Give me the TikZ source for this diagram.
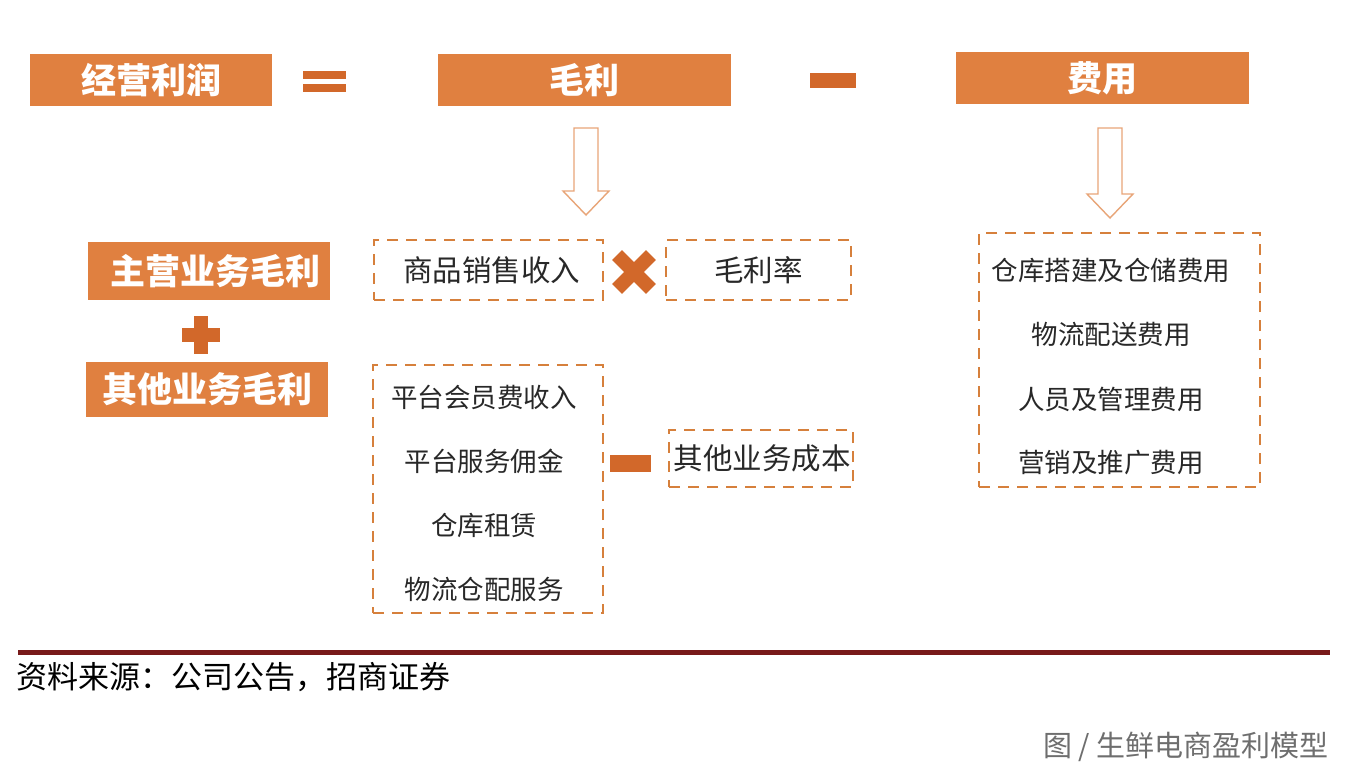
\documentclass[tikz,border=0pt]{standalone}
\usepackage{fontspec}
\newfontfamily\cjk{Noto Sans CJK SC}
\definecolor{boxor}{RGB}{224,128,64}
\definecolor{signor}{RGB}{210,104,42}
\definecolor{dashor}{RGB}{214,128,60}
\definecolor{arrowor}{RGB}{232,165,120}
\definecolor{rulered}{RGB}{120,26,26}
\definecolor{txt}{RGB}{40,40,40}
\definecolor{capgray}{RGB}{110,110,110}
\tikzset{
  headbox/.style={fill=boxor, inner sep=0pt, text=white, font=\cjk\bfseries\fontsize{35}{37}\selectfont},
  dashbox/.style={draw=dashor, line width=2.6pt, dash pattern=on 11pt off 8pt, inner sep=0pt},
  itemtext/.style={text=txt, font=\cjk\fontsize{26.5}{28}\selectfont, inner sep=0pt},
  bigtext/.style={text=txt, font=\cjk\fontsize{29.5}{31}\selectfont, inner sep=0pt},
  signfill/.style={fill=signor, draw=none},
  hollowarrow/.style={draw=arrowor, line width=1.4pt, fill=white, line join=miter}
}
\begin{document}
\begin{tikzpicture}[x=1pt,y=-1pt]
\useasboundingbox[fill=white] (0,0) rectangle (1348,776);

% top row
\node[headbox, minimum width=242pt, minimum height=52pt] (jyl) at (151,80) {经营利润};
\node[headbox, minimum width=293pt, minimum height=52pt] (ml) at (584.5,80) {毛利};
\node[headbox, minimum width=293pt, minimum height=52pt] (fy) at (1102.5,78) {费用};

% equals and minus
\fill[signfill] (303,71) rectangle (346,79);
\fill[signfill] (303,84) rectangle (346,92);
\fill[signfill] (810,73) rectangle (856,88);

% hollow arrows
\coordinate (a1) at (586,128);
\draw[hollowarrow] (a1) ++(-12,0) -- ++(0,63) -- ++(-11,0) -- ++(23,24) -- ++(23,-24) -- ++(-11,0) -- ++(0,-63) -- cycle;
\coordinate (a2) at (1110,128);
\draw[hollowarrow] (a2) ++(-12,0) -- ++(0,66) -- ++(-11,0) -- ++(23,24) -- ++(23,-24) -- ++(-11,0) -- ++(0,-66) -- cycle;

% left column
\node[headbox, minimum width=242pt, minimum height=58pt] (zy) at (209,271) {\hspace*{12pt}主营业务毛利};
\node[headbox, minimum width=242pt, minimum height=55pt] (qt) at (207,389.5) {其他业务毛利};
\fill[signfill] (194,316) rectangle (208,354);
\fill[signfill] (182,328) rectangle (220,342);

% row 2 dashed boxes
\node[dashbox, minimum width=229pt, minimum height=60pt] (spxs) at (488.5,270) {};
\node[bigtext] at ([xshift=3pt]spxs.center) {商品销售收入};
\begin{scope}[shift={(634,272)}, rotate=45]
  \fill[signfill] (-7,-24) rectangle (7,24);
  \fill[signfill] (-24,-7) rectangle (24,7);
\end{scope}
\node[dashbox, minimum width=185pt, minimum height=60pt] (mll) at (758.5,270) {};
\node[bigtext] at (mll.center) {毛利率};

% other business box
\node[dashbox, minimum width=230pt, minimum height=248pt] (qtbox) at (488,489) {};
\node[itemtext] (q1) at (484,397) {平台会员费收入};
\node[itemtext] (q2) at (484,461) {平台服务佣金};
\node[itemtext] (q3) at (484,525) {仓库租赁};
\node[itemtext] (q4) at (484,589) {物流仓配服务};
\fill[signfill] (610,455) rectangle (651,472);
\node[dashbox, minimum width=184pt, minimum height=57pt] (qtcb) at (761,458.5) {};
\node[bigtext] at ([xshift=1pt]qtcb.center) {其他业务成本};

% expense box
\node[dashbox, minimum width=281pt, minimum height=254pt] (fybox) at (1119.5,360) {};
\node[itemtext] (f1) at (1111,270) {仓库搭建及仓储费用};
\node[itemtext] (f2) at (1111,334) {物流配送费用};
\node[itemtext] (f3) at (1111,399) {人员及管理费用};
\node[itemtext] (f4) at (1111,463) {营销及推广费用};

% bottom
\fill[rulered] (18,650) rectangle (1330,655);
\node[anchor=west, inner sep=0pt, text=black, font=\cjk\fontsize{31}{33}\selectfont] (src) at (16,677) {资料来源：公司公告，招商证券};
\node[anchor=east, inner sep=0pt, text=capgray, font=\cjk\fontsize{29}{31}\selectfont] (cap) at (1329,747) {图 / 生鲜电商盈利模型};
\end{tikzpicture}
\end{document}
